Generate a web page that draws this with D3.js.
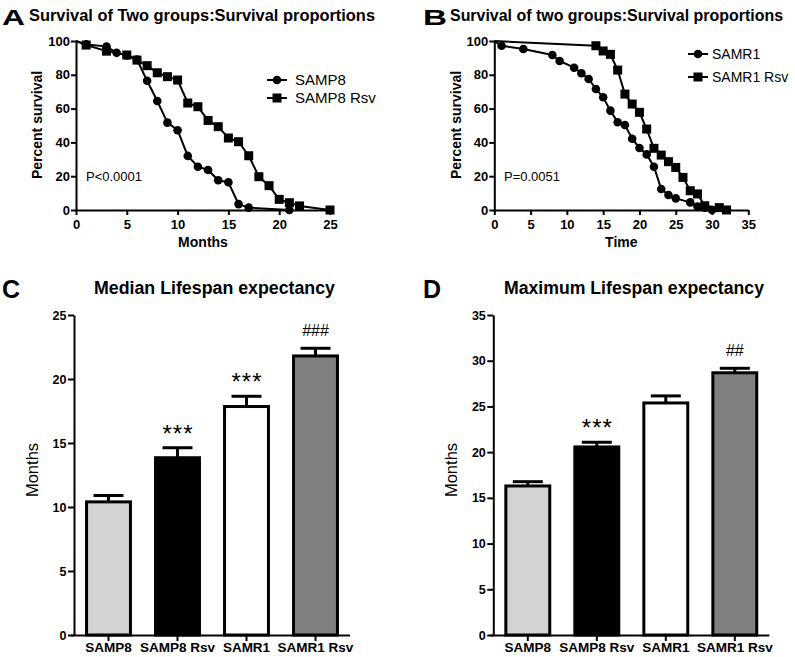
<!DOCTYPE html>
<html>
<head>
<meta charset="utf-8">
<script src="https://cdn.jsdelivr.net/npm/d3@7"></script>
<style>
  body { margin: 0; background: #fff; }
  svg { display: block; font-family: "Liberation Sans", Arial, Helvetica, sans-serif; }
</style>
</head>
<body>
<script>
// ---------------- DATA ----------------
// Panel A (months)
const samp8Months   = [0, 1, 3, 4, 5, 6, 7, 8, 9, 10, 11, 12, 13, 14, 15, 16, 17, 21];
const samp8Surv     = [100, 98, 96.7, 93, 91.5, 89, 76.5, 64.5, 51.7, 47.2, 32, 25.6, 23.7, 17.6, 16.4, 3.5, 1.4, 0];
const samp8RsvMonths= [0, 1, 3, 5, 6, 7, 8, 9, 10, 11, 12, 13, 14, 15, 16, 17, 18, 19, 20, 21, 22, 25];
const samp8RsvSurv  = [100, 97.6, 94, 91.7, 88.7, 85.4, 81.2, 78.9, 76.9, 63.3, 61.1, 53, 49.3, 42.6, 40.4, 32.1, 19.7, 14.4, 6.3, 4.3, 2.4, 0];
// Panel B (time)
const samr1Time     = [0, 1, 4, 8, 9, 11, 12, 13, 14, 15, 16, 17, 18, 19, 20, 21, 22, 23, 24, 25, 27, 28, 29, 30];
const samr1Surv     = [100, 97.2, 95.3, 91.7, 88.2, 84.2, 80.9, 77.5, 71.6, 66.7, 58.8, 51.9, 50.3, 42.2, 36.7, 32.9, 25.6, 12.4, 8.9, 6.9, 4.5, 2, 1.4, 0];
const samr1RsvTime  = [0, 14, 15, 16, 17, 18, 19, 20, 21, 22, 23, 24, 25, 26, 27, 28, 29, 31, 32];
const samr1RsvSurv  = [100, 97.2, 94.1, 92.1, 82.8, 68.6, 62.7, 57.8, 47.9, 36.5, 32.5, 28.6, 25.2, 19.3, 11.4, 9.5, 2.5, 1.4, 0];
const survTicks     = [0, 20, 40, 60, 80, 100];
const monthTicksA   = [0, 5, 10, 15, 20, 25];
const timeTicksB    = [0, 5, 10, 15, 20, 25, 30, 35];

// Panels C & D
const groups        = ["SAMP8", "SAMP8 Rsv", "SAMR1", "SAMR1 Rsv"];
const groupColors   = ["#d3d3d3", "#000000", "#ffffff", "#808080"];
const medianMean    = [10.4, 13.85, 17.85, 21.8];
const medianSEM     = [0.5, 0.78, 0.8, 0.6];
const medianMarks   = ["", "***", "***", "###"];
const medianTicks   = [0, 5, 10, 15, 20, 25];
const maxMean       = [16.3, 20.57, 25.38, 28.68];
const maxSEM        = [0.47, 0.51, 0.77, 0.49];
const maxMarks      = ["", "***", "", "##"];
const maxTicks      = [0, 5, 10, 15, 20, 25, 30, 35];

// ---------------- DRAW ----------------
const svg = d3.select("body").append("svg").attr("width", 795).attr("height", 657);

function styleAxis(g, size) {
  g.select(".domain").attr("stroke", "#000").attr("stroke-width", 2);
  g.selectAll(".tick line").attr("stroke", "#000").attr("stroke-width", 2);
  g.selectAll(".tick text").attr("fill", "#000").attr("font-weight", "bold")
    .attr("font-size", size).attr("font-family", "Liberation Sans, Arial, sans-serif");
}

function panelLetter(txt, x, y, size, len) {
  const t = svg.append("text").attr("x", x).attr("y", y).attr("font-weight", "bold")
    .attr("font-size", size).text(txt);
  if (len) t.attr("textLength", len).attr("lengthAdjust", "spacingAndGlyphs");
}
function title(txt, x, y, size, len) {
  svg.append("text").attr("x", x).attr("y", y).attr("font-weight", "bold")
    .attr("font-size", size).attr("textLength", len).attr("lengthAdjust", "spacingAndGlyphs").text(txt);
}

function survivalPanel(o) {
  const x = d3.scaleLinear().domain([0, o.xmax]).range([o.x0, o.x1]);
  const y = d3.scaleLinear().domain([0, 100]).range([210, 41]);
  const gx = svg.append("g").attr("transform", "translate(0,210)")
    .call(d3.axisBottom(x).tickValues(o.xticks).tickSize(5).tickSizeOuter(0).tickPadding(5));
  styleAxis(gx, 13);
  const gy = svg.append("g").attr("transform", `translate(${o.x0},0)`)
    .call(d3.axisLeft(y).tickValues(survTicks).tickSize(5).tickSizeOuter(0).tickPadding(1));
  styleAxis(gy, 13);

  const line = d3.line().x(d => x(d[0])).y(d => y(d[1]));
  const sq = d3.zip(o.sqX, o.sqY), ci = d3.zip(o.ciX, o.ciY);
  [sq, ci].forEach(pts => svg.append("path").datum(pts).attr("d", line)
    .attr("fill", "none").attr("stroke", "#000").attr("stroke-width", 2));
  svg.append("g").selectAll("rect").data(sq.slice(1)).join("rect")
    .attr("x", d => x(d[0]) - 4.5).attr("y", d => y(d[1]) - 4.5)
    .attr("width", 9).attr("height", 9).attr("fill", "#000");
  svg.append("g").selectAll("circle").data(ci.slice(1)).join("circle")
    .attr("cx", d => x(d[0])).attr("cy", d => y(d[1])).attr("r", 4.3).attr("fill", "#000");

  // axis titles
  svg.append("text").attr("transform", `translate(${o.ylabX},125) rotate(-90)`)
    .attr("text-anchor", "middle").attr("font-weight", "bold").attr("font-size", 14).text("Percent survival");
  svg.append("text").attr("x", (o.x0 + o.x1) / 2).attr("y", 247).attr("text-anchor", "middle")
    .attr("font-weight", "bold").attr("font-size", 14).text(o.xlabel);
  // p value
  svg.append("text").attr("x", o.pX).attr("y", 181).attr("font-size", 13).text(o.p);
  // legend
  o.legend.forEach((L, i) => {
    const ly = o.legY + i * o.legDy;
    svg.append("line").attr("x1", o.legX).attr("x2", o.legX + 20).attr("y1", ly).attr("y2", ly)
      .attr("stroke", "#000").attr("stroke-width", 2);
    if (L.shape === "circle") svg.append("circle").attr("cx", o.legX + 10).attr("cy", ly).attr("r", 4.3);
    else svg.append("rect").attr("x", o.legX + 5.5).attr("y", ly - 4.5).attr("width", 9).attr("height", 9);
    svg.append("text").attr("x", o.legX + o.legTx).attr("y", ly + 5).attr("font-size", o.legFs).text(L.name);
  });
}

function barPanel(o) {
  const x = d3.scaleBand().domain(groups).range([o.x0, o.x0 + 276]).paddingInner(0.32).paddingOuter(0.16);
  const y = d3.scaleLinear().domain([0, o.ymax]).range([635, 315]);
  const gx = svg.append("g").attr("transform", "translate(0,635)")
    .call(d3.axisBottom(x).tickSize(6).tickSizeOuter(0).tickPadding(1.5));
  styleAxis(gx, 13.5);
  gx.select(".domain").attr("d", `M${o.x0 - 3},0.5H${o.x0 + 276}`);
  const gy = svg.append("g").attr("transform", `translate(${o.x0},0)`)
    .call(d3.axisLeft(y).tickValues(o.ticks).tickSize(6).tickSizeOuter(0).tickPadding(1.5));
  styleAxis(gy, 12.5);

  const data = groups.map((g, i) => ({ g, m: o.mean[i], s: o.sem[i], c: groupColors[i], a: o.marks[i] }));
  // error bars (upper)
  const eb = svg.append("g").attr("stroke", "#000").attr("stroke-width", 3);
  data.forEach(d => {
    const cx = x(d.g) + x.bandwidth() / 2;
    eb.append("line").attr("x1", cx).attr("x2", cx).attr("y1", y(d.m)).attr("y2", y(d.m + d.s));
    eb.append("line").attr("x1", cx - 15).attr("x2", cx + 15).attr("y1", y(d.m + d.s)).attr("y2", y(d.m + d.s));
  });
  svg.append("g").selectAll("rect").data(data).join("rect")
    .attr("x", d => x(d.g) + 1.5).attr("y", d => y(d.m))
    .attr("width", x.bandwidth() - 3).attr("height", d => 635 - y(d.m))
    .attr("fill", d => d.c).attr("stroke", "#000").attr("stroke-width", 3);
  // annotations
  data.filter(d => d.a).forEach(d => {
    const cx = x(d.g) + x.bandwidth() / 2;
    const star = d.a.includes("*");
    const t = svg.append("text").attr("x", cx).attr("text-anchor", "middle")
      .attr("y", y(d.m + d.s) - (star ? 6 : 12))
      .attr("font-size", star ? 24 : 16).text(d.a);
    if (star) t.attr("textLength", 30).attr("lengthAdjust", "spacing");
  });
  svg.append("text").attr("transform", `translate(${o.x0 - 36},470) rotate(-90)`)
    .attr("text-anchor", "middle").attr("font-size", 16.5).text("Months");
  title(o.title, o.tX, 294, 18, o.tLen);
}

// Panel A
panelLetter("A", 2, 25, 22, 23);
title("Survival of Two groups:Survival proportions", 29, 21, 16, 346);
survivalPanel({
  x0: 76, x1: 330, xmax: 25, xticks: monthTicksA, xlabel: "Months", ylabX: 42,
  ciX: samp8Months, ciY: samp8Surv, sqX: samp8RsvMonths, sqY: samp8RsvSurv,
  p: "P<0.0001", pX: 86,
  legend: [{ name: "SAMP8", shape: "circle" }, { name: "SAMP8 Rsv", shape: "square" }],
  legX: 267, legY: 80, legDy: 18, legTx: 28, legFs: 15
});

// Panel B
panelLetter("B", 423, 25, 22, 24);
title("Survival of two groups:Survival proportions", 450, 21, 16, 333);
survivalPanel({
  x0: 494.3, x1: 748.3, xmax: 35, xticks: timeTicksB, xlabel: "Time", ylabX: 461,
  ciX: samr1Time, ciY: samr1Surv, sqX: samr1RsvTime, sqY: samr1RsvSurv,
  p: "P=0.0051", pX: 504,
  legend: [{ name: "SAMR1", shape: "circle" }, { name: "SAMR1 Rsv", shape: "square" }],
  legX: 688, legY: 54, legDy: 23, legTx: 24, legFs: 14
});

// Panel C
panelLetter("C", 2, 298, 25);
barPanel({ x0: 74, ymax: 25, ticks: medianTicks, mean: medianMean, sem: medianSEM, marks: medianMarks,
  title: "Median Lifespan expectancy", tX: 94, tLen: 241 });

// Panel D
panelLetter("D", 423, 298, 25);
barPanel({ x0: 493.3, ymax: 35, ticks: maxTicks, mean: maxMean, sem: maxSEM, marks: maxMarks,
  title: "Maximum Lifespan expectancy", tX: 504, tLen: 260 });
</script>
</body>
</html>
